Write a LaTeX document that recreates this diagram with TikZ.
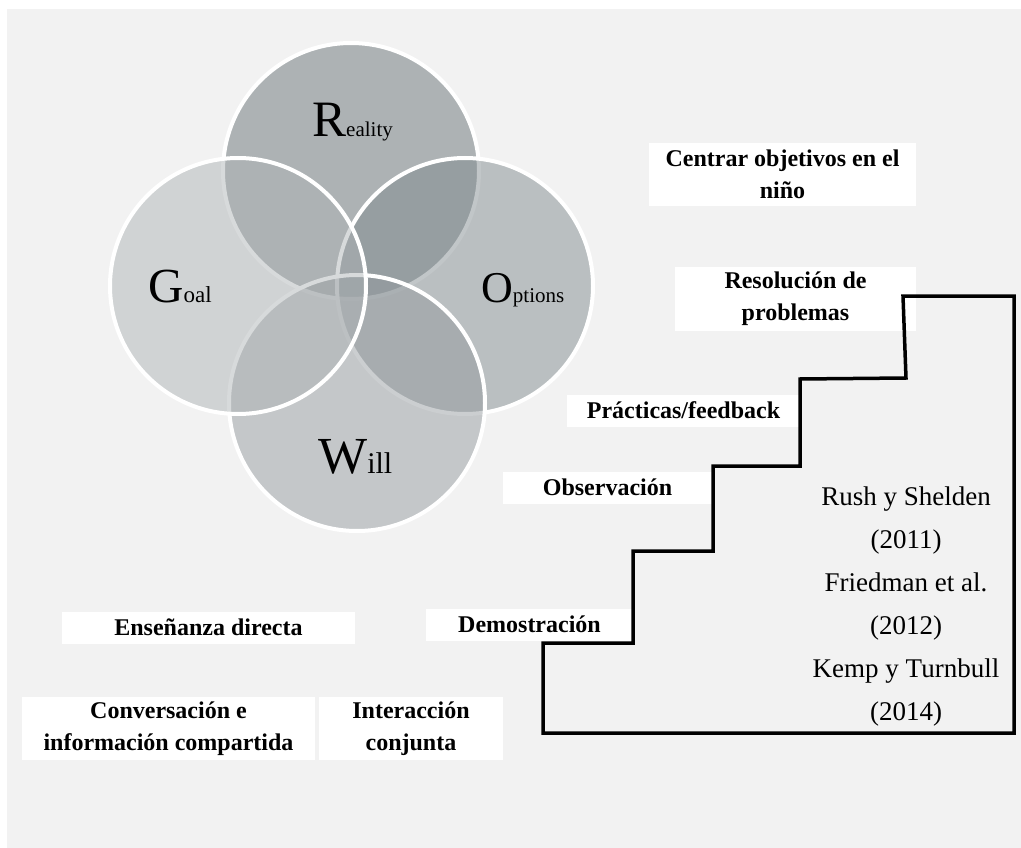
\documentclass[tikz,border=0pt]{standalone}
\usepackage{fontspec}
\setmainfont{Liberation Serif}
\definecolor{bgc}{RGB}{242,242,242}
\definecolor{rcol}{RGB}{173,178,180}
\definecolor{ocol}{RGB}{127,137,141}
\definecolor{wcol}{RGB}{147,153,157}
\definecolor{gcol}{RGB}{173,178,180}
\begin{document}
\begin{tikzpicture}[x=1pt,y=-1pt,
  venn/.style={circle, draw=white, line width=4pt, minimum size=256pt, inner sep=0pt},
  box/.style={fill=white, inner sep=0pt, align=center, font=\fontsize{24}{32}\selectfont\bfseries},
  onebox/.style={box, text height=17pt, text depth=3pt, minimum height=32pt},
  big/.style={anchor=base west, inner sep=0pt},
  cite/.style={align=center, font=\fontsize{27}{43}\selectfont, inner sep=0pt},
  stair/.style={draw=black, line width=3.5pt, line join=miter}]
\useasboundingbox (0,0) rectangle (1021,848);
\fill[bgc] (7,9) rectangle (1021,848);
% Venn circles
\node[venn, fill=rcol] (R) at (351,171) {};
\node[venn, fill=ocol, fill opacity=0.48] (O) at (465,286) {};
\node[venn, fill=wcol, fill opacity=0.48] (W) at (357,403) {};
\node[venn, fill=gcol, fill opacity=0.48] (G) at (238,286) {};
% Venn labels
\node[big] (Rl) at (312,137) {\fontsize{51}{51}\selectfont R\fontsize{21}{21}\selectfont eality};
\node[big] (Gl) at (148,302) {\fontsize{49}{49}\selectfont G\fontsize{23}{23}\selectfont oal};
\node[big] (Ol) at (481,302) {\fontsize{44}{44}\selectfont O\fontsize{21}{21}\selectfont ptions};
\node[big] (Wl) at (318,473) {\fontsize{52}{52}\selectfont W\fontsize{30}{30}\selectfont ill};
% label boxes
\node[box, minimum width=267pt, minimum height=63pt] (cen) at (782.5,174.5) {Centrar objetivos en el\\niño};
\node[box, minimum width=241pt, minimum height=64pt] (res) at (795.5,299) {Resolución de\\problemas};
\node[onebox, minimum width=233pt] (pra) at (683.5,411) {Prácticas/feedback};
\node[onebox, minimum width=210pt] (obs) at (607.5,488) {Observación};
\node[onebox, minimum width=207pt] (dem) at (529.5,625) {Demostración};
\node[onebox, minimum width=293pt] (ens) at (208.5,628) {Enseñanza directa};
\node[box, minimum width=293pt, minimum height=63pt] (con) at (168.5,728.5) {Conversación e\\información compartida};
\node[box, minimum width=184pt, minimum height=63pt] (int) at (411,728.5) {Interacción\\conjunta};
% stair
\draw[stair] (543,733) -- (543,643) -- (633,643) -- (633,551) -- (713,551) -- (713,466) -- (800,466) -- (800,379) -- (906,378) -- (903,296) -- (1014,296) -- (1014,733) -- cycle;
% citations
\node[cite] (cit) at (906,607) {Rush y Shelden\\(2011)\\Friedman et al.\\(2012)\\Kemp y Turnbull\\(2014)};
\end{tikzpicture}
\end{document}
